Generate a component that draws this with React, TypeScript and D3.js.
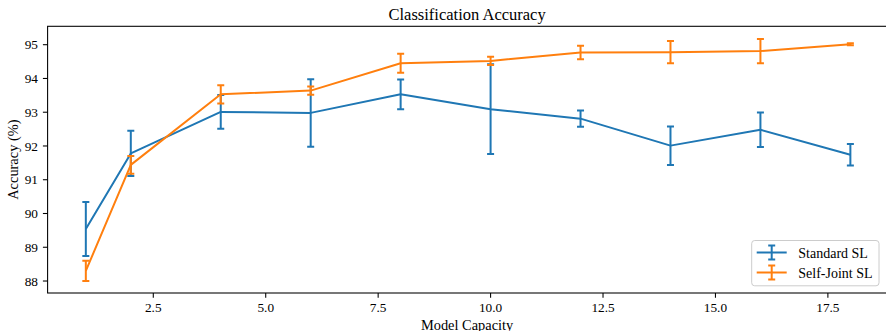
import React from "react";
import * as d3 from "d3";

const capacities = [1, 2, 4, 6, 8, 10, 12, 14, 16, 18];
const standardMean = [89.54, 91.78, 93.01, 92.98, 93.53, 93.09, 92.81, 92.01, 92.48, 91.74];
const standardErr = [0.8, 0.67, 0.5, 1.0, 0.44, 1.33, 0.24, 0.57, 0.51, 0.32];
const jointMean = [88.3, 91.44, 93.53, 93.64, 94.45, 94.52, 94.77, 94.78, 94.81, 95.01];
const jointErr = [0.3, 0.26, 0.27, 0.12, 0.28, 0.12, 0.2, 0.33, 0.36, 0.03];
const xTicks = [2.5, 5.0, 7.5, 10.0, 12.5, 15.0, 17.5];
const yTicks = [88, 89, 90, 91, 92, 93, 94, 95];
const seriesNames = ["Standard SL", "Self-Joint SL"];
const colors = ["#1f77b4", "#ff7f0e"];

const W = 886;
const H = 331;
const left = 47.6;
const right = 888.6;
const top = 26.3;
const bottom = 293;
const font = "'Liberation Serif', 'Times New Roman', serif";

export default function App() {
  const x = d3.scaleLinear().domain([0.15, 18.85]).range([left, right]);
  const y = d3.scaleLinear().domain([87.645, 95.545]).range([bottom, top]);
  const line = d3
    .line<[number, number]>()
    .x((d) => x(d[0]))
    .y((d) => y(d[1]));

  const series = [
    { name: seriesNames[0], mean: standardMean, err: standardErr, color: colors[0] },
    { name: seriesNames[1], mean: jointMean, err: jointErr, color: colors[1] },
  ];
  const cap = 3.5;
  const lw = 2;

  return (
    <svg
      width={W}
      height={H}
      style={{ position: "absolute", left: 0, top: 0, background: "#fff" }}
      fontFamily={font}
    >
      <rect x={0} y={0} width={W} height={H} fill="#fff" />
      <defs>
        <clipPath id="plotclip">
          <rect x={left} y={top} width={right - left} height={bottom - top} />
        </clipPath>
      </defs>
      {series.map((s, si) => (
        <g key={si} clipPath="url(#plotclip)">
          <path
            d={line(capacities.map((c, i) => [c, s.mean[i]]) as [number, number][]) || ""}
            fill="none"
            stroke={s.color}
            strokeWidth={lw}
            strokeLinejoin="round"
          />
          {capacities.map((c, i) => {
            const cx = x(c);
            const y1 = y(s.mean[i] + s.err[i]);
            const y0 = y(s.mean[i] - s.err[i]);
            return (
              <g key={i} stroke={s.color} strokeWidth={lw}>
                <line x1={cx} x2={cx} y1={y1} y2={y0} />
                <line x1={cx - cap} x2={cx + cap} y1={y1} y2={y1} />
                <line x1={cx - cap} x2={cx + cap} y1={y0} y2={y0} />
              </g>
            );
          })}
        </g>
      ))}
      {/* spines */}
      <rect
        x={left}
        y={top}
        width={right - left}
        height={bottom - top}
        fill="none"
        stroke="#000"
        strokeWidth={1.07}
      />
      {/* x ticks */}
      {xTicks.map((t) => (
        <g key={t}>
          <line x1={x(t)} x2={x(t)} y1={bottom} y2={bottom + 4.7} stroke="#000" strokeWidth={1.07} />
          <text x={x(t)} y={312} fontSize={13.3} textAnchor="middle" fill="#000">
            {t.toFixed(1)}
          </text>
        </g>
      ))}
      {/* y ticks */}
      {yTicks.map((t) => (
        <g key={t}>
          <line x1={left - 4.7} x2={left} y1={y(t)} y2={y(t)} stroke="#000" strokeWidth={1.07} />
          <text x={left - 9.6} y={y(t) + 4.6} fontSize={13.3} textAnchor="end" fill="#000">
            {t}
          </text>
        </g>
      ))}
      <text x={(left + right) / 2 - 1} y={20} fontSize={16.5} textAnchor="middle" fill="#000">
        Classification Accuracy
      </text>
      <text x={(left + right) / 2 - 1} y={330} fontSize={14.4} textAnchor="middle" fill="#000">
        Model Capacity
      </text>
      <text
        transform={`translate(18,${(top + bottom) / 2}) rotate(-90)`}
        fontSize={14.4}
        textAnchor="middle"
        fill="#000"
      >
        Accuracy (%)
      </text>
      {/* legend */}
      <rect
        x={751.7}
        y={240.5}
        width={127.3}
        height={45.3}
        rx={3}
        fill="#fff"
        fillOpacity={0.8}
        stroke="#ccc"
        strokeWidth={1}
      />
      {series.map((s, si) => {
        const cy = 252.5 + si * 20;
        const hx = 771.7;
        return (
          <g key={si}>
            <g stroke={s.color} strokeWidth={lw}>
              <line x1={756.7} x2={786.7} y1={cy} y2={cy} />
              <line x1={hx} x2={hx} y1={cy - 7} y2={cy + 7} />
              <line x1={hx - cap} x2={hx + cap} y1={cy - 7} y2={cy - 7} />
              <line x1={hx - cap} x2={hx + cap} y1={cy + 7} y2={cy + 7} />
            </g>
            <text x={798.3} y={cy + 5} fontSize={14} fill="#000">
              {s.name}
            </text>
          </g>
        );
      })}
    </svg>
  );
}
